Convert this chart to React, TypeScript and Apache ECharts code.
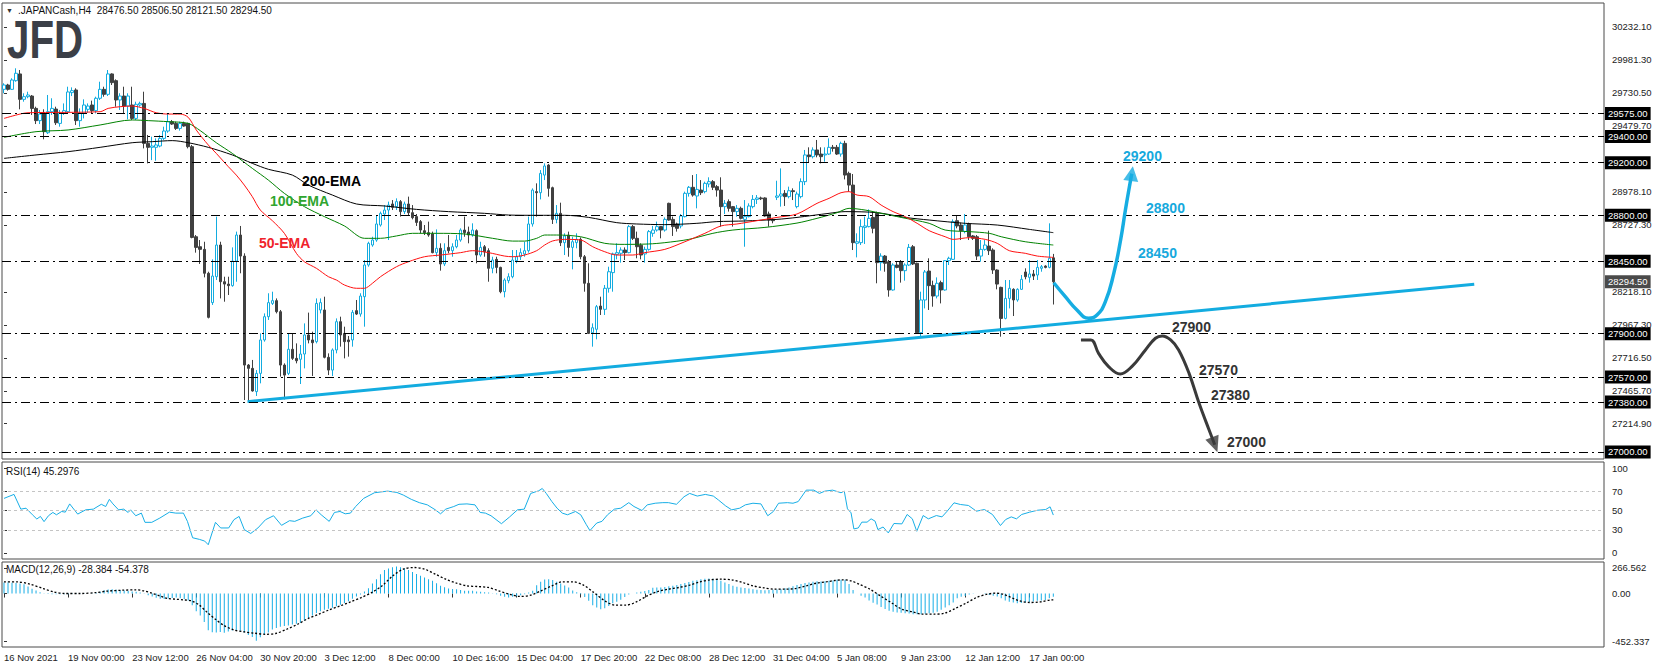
import React, { useEffect, useRef } from 'react';
import * as echarts from 'echarts';

// ---------- data ----------
const TICK_LABELS = ['16 Nov 2021', '19 Nov 00:00', '23 Nov 12:00', '26 Nov 04:00', '30 Nov 20:00', '3 Dec 12:00', '8 Dec 00:00', '10 Dec 16:00', '15 Dec 04:00', '17 Dec 20:00', '22 Dec 08:00', '28 Dec 12:00', '31 Dec 04:00', '5 Jan 08:00', '9 Jan 23:00', '12 Jan 12:00', '17 Jan 00:00'];
const BARS_PER_LABEL = 16;
const SLOTS = 400;

// [open, high, low, close]
const OHLC: number[][] = [
  [29758,29804,29728,29791],[29791,29800,29748,29758],[29758,29842,29753,29829],[29824,29918,29816,29880],[29875,29905,29606,29682],
  [29682,29728,29664,29702],[29702,29740,29690,29715],[29707,29715,29563,29613],[29613,29626,29494,29520],[29520,29601,29494,29570],
  [29575,29606,29378,29436],[29428,29715,29418,29588],[29588,29690,29563,29613],[29608,29626,29487,29504],[29499,29601,29474,29575],
  [29575,29651,29563,29596],[29588,29778,29575,29738],[29733,29773,29707,29748],[29753,29766,29487,29520],[29520,29613,29474,29575],
  [29575,29682,29537,29639],[29606,29651,29580,29631],[29639,29672,29575,29596],[29596,29702,29575,29690],[29690,29816,29677,29758],
  [29758,29778,29702,29720],[29720,29905,29707,29875],[29875,29880,29791,29809],[29824,29834,29626,29677],[29677,29728,29601,29707],
  [29707,29778,29570,29631],[29631,29728,29530,29707],[29639,29778,29525,29537],[29537,29664,29525,29644],[29639,29664,29626,29651],
  [29651,29740,29309,29347],[29347,29411,29195,29317],[29317,29398,29220,29327],[29317,29385,29215,29335],[29327,29411,29317,29385],
  [29385,29474,29373,29441],[29441,29575,29428,29512],[29512,29525,29487,29494],[29499,29512,29449,29461],[29461,29512,29444,29499],
  [29499,29512,29474,29479],[29499,29504,29309,29322],[29322,29335,28625,28632],[28637,28650,28516,28556],[28561,28612,28430,28541],
  [28541,28599,28328,28359],[28359,28371,28016,28024],[28136,28465,28118,28338],[28333,28790,28308,28574],[28574,28599,28168,28295],
  [28295,28333,28143,28277],[28277,28333,28194,28265],[28265,28556,28257,28452],[28452,28676,28295,28650],[28650,28719,28359,28490],
  [28490,28511,27395,27661],[27661,27669,27383,27636],[27636,27700,27459,27464],[27459,27623,27426,27598],[27598,27902,27522,27852],
  [27852,28054,27839,28029],[28029,28207,28004,28136],[28130,28219,28118,28151],[28151,28168,28054,28067],[28067,28080,27573,27661],
  [27661,27674,27400,27585],[27598,27902,27585,27781],[27781,27902,27700,27712],[27712,27826,27674,27694],[27705,27814,27517,27745],
  [27745,27978,27636,27890],[27890,28060,27826,27852],[27852,27915,27578,27831],[27839,28168,27826,28130],[28080,28168,28054,28136],
  [28080,28181,27712,27720],[27720,27750,27585,27623],[27623,27788,27578,27776],[27776,28016,27750,27991],[27991,28029,27801,27890],
  [27902,27953,27712,27839],[27852,27882,27725,27839],[27852,28080,27801,28062],[28075,28156,28042,28049],[28049,28207,28029,28186],
  [28181,28460,27953,28422],[28422,28599,28409,28587],[28574,28637,28561,28612],[28612,28802,28599,28734],[28726,28828,28714,28815],
  [28810,28878,28764,28840],[28840,28904,28612,28878],[28886,28916,28840,28861],[28866,28929,28840,28904],[28904,28916,28790,28828],
  [28828,28904,28810,28886],[28886,28942,28802,28820],[28820,28878,28769,28782],[28790,28810,28719,28746],[28752,28764,28663,28688],
  [28683,28726,28650,28668],[28668,28752,28637,28650],[28658,28676,28511,28516],[28516,28693,28485,28549],[28549,28587,28379,28430],
  [28430,28587,28414,28531],[28556,28650,28511,28531],[28531,28587,28485,28561],[28561,28650,28549,28612],[28612,28701,28599,28688],
  [28688,28790,28637,28668],[28673,28714,28587,28650],[28650,28739,28637,28688],[28683,28693,28435,28498],[28498,28599,28485,28556],
  [28561,28574,28485,28523],[28531,28549,28295,28397],[28397,28485,28359,28460],[28465,28485,28359,28404],[28404,28409,28207,28219],
  [28219,28321,28176,28308],[28303,28359,28283,28333],[28333,28536,28321,28460],[28455,28536,28435,28485],[28485,28549,28460,28516],
  [28506,28599,28485,28531],[28531,28790,28516,28734],[28734,29005,28714,28992],[28980,29043,28790,28972],[28972,29144,28921,29119],
  [29106,29195,29068,29175],[29182,29190,28942,29005],[29010,29018,28734,28769],[28769,28878,28739,28815],[28815,28896,28566,28592],
  [28592,28663,28498,28643],[28650,28676,28485,28556],[28556,28637,28389,28599],[28592,28663,28549,28617],[28617,28632,28465,28485],
  [28485,28498,28219,28283],[28283,28435,27897,27902],[27907,27978,27801,27945],[27933,28118,27857,28105],[28110,28181,28042,28085],
  [28085,28270,28042,28245],[28245,28409,28212,28371],[28364,28516,28219,28506],[28503,28587,28465,28516],[28511,28556,28440,28536],
  [28536,28556,28460,28516],[28516,28726,28511,28714],[28714,28726,28612,28625],[28625,28676,28473,28561],[28572,28587,28465,28498],
  [28506,28561,28440,28541],[28541,28688,28531,28676],[28663,28719,28637,28688],[28688,28752,28676,28714],[28714,28719,28625,28688],
  [28688,28784,28676,28769],[28891,28896,28759,28764],[28769,28790,28643,28714],[28734,28744,28676,28701],[28719,28810,28701,28795],
  [28790,28980,28784,28967],[28967,29023,28942,29013],[29013,29106,28942,28954],[28947,29114,28853,28997],[28992,29068,28954,28972],
  [28980,29056,28967,29043],[29038,29089,29013,29056],[29056,29068,28992,29013],[29018,29030,28942,28992],[28992,29089,28714,28866],
  [28866,28916,28810,28891],[28904,28921,28828,28853],[28866,28871,28714,28828],[28828,28878,28790,28853],[28853,28866,28769,28777],
  [28769,28916,28561,28790],[28790,28891,28784,28871],[28866,28954,28853,28921],[28921,28954,28886,28932],[28932,28942,28916,28926],
  [28932,28937,28790,28795],[28810,28828,28714,28764],[28769,28777,28739,28759],[28937,29063,28916,28947],[28947,29157,28866,28962],
  [28967,28992,28871,28942],[28942,29018,28929,28987],[28987,29005,28916,28980],[28866,28980,28853,28962],[28942,29081,28929,29056],
  [29056,29297,29030,29259],[29259,29317,29200,29246],[29246,29317,29233,29297],[29297,29373,29241,29259],[29266,29317,29195,29246],
  [29259,29317,29208,29266],[29266,29385,29259,29317],[29317,29335,29284,29309],[29317,29335,29259,29266],[29266,29360,29246,29347],
  [29347,29367,29073,29106],[29119,29132,28980,29030],[29030,29114,28536,28592],[28587,28663,28480,28599],[28592,28769,28574,28714],
  [28708,28790,28582,28719],[28714,28845,28708,28777],[28784,28828,28663,28701],[28815,28828,28283,28440],[28440,28511,28379,28490],
  [28490,28498,28371,28435],[28447,28460,28181,28232],[28232,28435,28227,28422],[28422,28447,28397,28404],[28447,28460,28288,28379],
  [28379,28435,28303,28422],[28422,28582,28414,28556],[28561,28574,28422,28430],[28435,28440,27902,27907],[27907,28219,27872,28156],
  [28156,28384,28092,28369],[28376,28473,28080,28265],[28267,28303,28105,28186],[28186,28328,28168,28283],[28288,28303,28130,28232],
  [28232,28460,28227,28455],[28455,28485,28422,28473],[28465,28769,28460,28752],[28759,28802,28701,28719],[28726,28744,28612,28683],
  [28676,28810,28663,28726],[28734,28744,28612,28637],[28643,28650,28612,28625],[28637,28650,28460,28490],[28490,28612,28447,28541],
  [28541,28612,28531,28574],[28566,28683,28498,28531],[28536,28549,28354,28384],[28384,28389,28237,28277],[28252,28257,27877,28016],
  [28016,28308,28009,28168],[28168,28308,28092,28245],[28237,28245,28034,28156],[28156,28245,28143,28237],[28237,28346,28232,28313],
  [28369,28397,28313,28333],[28328,28460,28288,28354],[28354,28384,28308,28338],[28346,28460,28308,28404],[28397,28422,28371,28409],
  [28414,28420,28397,28404],[28404,28739,28397,28473],[28476.5,28506.5,28121.5,28294.5]
];

// moving averages: [bar index, price]
const EMA50 = [[0,29537],[4,29570],[6,29580],[24,29588],[26,29613],[29,29626],[32,29631],[35,29613],[38,29580],[41,29570],[44,29570],[46,29545],[48,29449],[51,29335],[53,29271],[56,29170],[58,29106],[60,29030],[62,28942],[64,28840],[67,28759],[70,28663],[73,28511],[75,28447],[78,28397],[81,28333],[83,28308],[85,28270],[88,28245],[90,28245],[92,28283],[94,28333],[98,28409],[101,28447],[105,28485],[109,28498],[114,28516],[117,28531],[121,28516],[125,28490],[127,28485],[130,28498],[133,28531],[135,28574],[137,28605],[140,28617],[144,28612],[147,28561],[150,28523],[153,28498],[157,28498],[160,28516],[165,28541],[170,28599],[175,28663],[179,28719],[183,28734],[188,28759],[193,28784],[198,28810],[203,28891],[206,28929],[209,28972],[211,28980],[213,28954],[216,28942],[219,28878],[222,28828],[225,28790],[228,28739],[231,28683],[235,28637],[237,28617],[241,28630],[245,28617],[248,28587],[251,28531],[255,28511],[258,28490],[262,28480]];
const EMA100 = [[0,29393],[8,29436],[16,29449],[24,29487],[32,29525],[36,29520],[41,29512],[46,29499],[49,29444],[53,29352],[57,29271],[62,29157],[66,29068],[70,28967],[75,28866],[80,28790],[85,28719],[90,28625],[94,28625],[98,28643],[102,28663],[108,28663],[115,28658],[122,28625],[127,28604],[130,28604],[133,28625],[135,28650],[138,28650],[144,28637],[150,28587],[155,28579],[161,28582],[165,28592],[171,28617],[177,28663],[182,28688],[190,28708],[198,28741],[203,28777],[208,28820],[211,28853],[215,28840],[219,28815],[224,28784],[231,28739],[235,28688],[241,28676],[246,28663],[249,28637],[255,28599],[262,28574]];
const EMA200 = [[0,29233],[8,29259],[16,29284],[24,29317],[32,29352],[37,29360],[42,29368],[46,29352],[51,29317],[57,29259],[62,29195],[66,29150],[72,29106],[76,29030],[82,28954],[88,28886],[95,28871],[103,28845],[111,28828],[120,28815],[126,28802],[133,28800],[140,28800],[146,28784],[153,28744],[158,28734],[165,28729],[173,28739],[178,28752],[185,28757],[193,28769],[198,28784],[206,28815],[210,28828],[218,28820],[225,28784],[231,28764],[240,28739],[248,28726],[256,28693],[262,28668]];

// RSI(14): [bar index, value]
const RSI = [[0,62.5],[2.5,66.6],[4.2,51.4],[5.5,52.4],[7.1,45.6],[8.2,41.2],[9.1,43.9],[10,38.5],[11.1,44.6],[12.2,48],[13.1,45.6],[14.4,49],[15.3,48.3],[16.4,56.8],[18.4,46.3],[20.4,50.7],[22.3,51.4],[24.3,56.4],[25.4,54.1],[26.3,61.5],[27.2,56.8],[28.6,50.7],[29.9,51.4],[31,48],[31.6,50.7],[32.9,44.6],[34.3,47.3],[35.2,37.8],[36.9,37.8],[38.9,42.2],[41.3,48.3],[42.9,47.3],[44.8,47.3],[45.8,38.8],[47.1,21.9],[48.8,20.2],[50.1,18.5],[51,14.7],[52.8,37.8],[54.1,32],[56.1,32],[57.4,40.5],[58.7,43.9],[60,30.3],[61.6,26.3],[63.4,32],[65.3,40.5],[67.3,44.6],[69.3,34.7],[71.3,39.5],[72.6,38.8],[74.6,42.2],[76.6,44.6],[77.9,50.7],[79.2,45.6],[81.2,38.8],[82.5,48],[83.9,49],[85.2,46.6],[86.5,47.3],[87.8,54.1],[89.8,62.5],[92.5,68.3],[95.8,70],[98.1,68.6],[99.7,65.9],[101.7,61.5],[103.7,58.1],[105.7,55.8],[107.7,50.7],[109,46.6],[110.3,51.4],[112.3,54.1],[113.6,56.4],[115.6,56.8],[117.6,55.8],[118.9,48],[120.2,47.3],[121.6,44.6],[124.2,36.4],[126.2,43.2],[128.2,50.7],[129.9,51.4],[131.5,67.6],[133.5,70.3],[134.4,72.7],[135.4,67.6],[136.8,59.2],[138.1,52.4],[139.4,47.3],[140.7,45.6],[142.7,49],[144,45.6],[145.4,35.4],[146.3,29.3],[148,37.1],[149.3,38.8],[150.7,45.6],[152.4,51.4],[154,52.4],[156,58.1],[157.3,54.1],[159.3,50],[160.6,55.8],[162.6,57.5],[164.5,58.1],[165.9,58.1],[167.9,56.4],[169.8,64.2],[171.2,67.6],[173.1,64.9],[175.1,66.6],[177.1,64.9],[178.4,60.8],[180.2,54.7],[181.7,50.7],[183.7,52.4],[185.1,55.8],[187,57.5],[189,56.8],[190.7,44.6],[192.1,49],[193.4,57.5],[195.6,58.1],[197,57.5],[198.3,59.2],[200.3,71],[202.2,71],[203.6,67.6],[205,70],[206.9,71],[209,68.3],[209.8,70],[210.6,51.7],[211.5,47.6],[212.2,31],[213.3,32],[214.2,38],[215.5,38],[216.5,41.4],[217.5,39],[218.2,30.3],[219.5,33],[220.8,26.9],[222.2,36.6],[224.2,36.2],[225.5,45.9],[226.8,41.4],[227.9,28.6],[229.5,44.8],[230.8,41.4],[232.8,44.8],[234.2,43.4],[235.5,49.3],[237.2,57.9],[238.8,56.2],[240.8,55.2],[242.8,49.3],[244.8,51],[246.8,45.9],[248.8,34.5],[250.1,40.7],[251.5,43.4],[252.8,41.4],[254.1,45.9],[256.1,48.3],[258.1,50.3],[260.1,51],[261.2,53.8],[262,45.3]];
const RSI_LEVELS = [30, 50, 70];

// MACD(12,26,9) main histogram, one value per bar
const MACD_MAIN = [93,93,92,89,85,78,60,40,25,10,2,-4,-6,-6,-6,-6,-6,-5,-4,-3,-2,0,3,6,15,28,34,37,32,28,25,22,18,14,9,2,-14,-25,-35,-45,-46,-42,-38,-34,-40,-47,-58,-100,-150,-185,-240,-310,-328,-330,-325,-331,-322,-312,-308,-315,-330,-350,-368,-400,-370,-345,-330,-305,-292,-282,-275,-270,-262,-255,-248,-228,-208,-185,-165,-150,-137,-128,-120,-108,-94,-80,-66,-45,-25,-8,18,45,85,120,162,198,212,222,229,222,212,198,182,166,150,136,121,107,86,65,52,42,39,37,30,23,23,23,18,14,11,8,2,-6,-18,-27,-34,-28,-20,-14,-6,8,23,70,100,118,121,115,100,85,68,50,25,10,-6,-30,-62,-100,-118,-133,-125,-105,-82,-70,-52,-30,-8,0,8,15,22,30,48,51,51,55,62,66,71,80,88,98,107,113,121,124,127,125,121,108,93,80,66,58,51,46,42,36,31,29,28,29,31,34,37,44,51,62,71,80,88,93,99,103,101,104,107,110,116,116,116,80,30,0,-18,-34,-60,-78,-92,-115,-130,-145,-155,-160,-163,-167,-170,-175,-176,-175,-172,-167,-162,-155,-138,-119,-100,-76,-40,-28,-20,-8,2,1,0,-4,-12,-18,-25,-40,-60,-70,-77,-82,-80,-76,-72,-68,-62,-58,-54,-40,-28];
// MACD signal line: [bar index, value]
const MACD_SIGNAL = [[0,99],[3.2,99],[6.5,79],[9.8,42],[12.4,14],[15.1,0],[19,0],[23,8],[25.7,20],[29.6,28],[32.9,31],[34.9,23],[36.9,3],[38.9,-20],[40.9,-42],[42.9,-48],[44.8,-54],[46.8,-62],[48.8,-99],[50.8,-161],[52.8,-218],[54.8,-268],[57.4,-308],[60.1,-325],[62.7,-336],[65.3,-345],[68,-336],[70.6,-302],[73.3,-260],[75.9,-212],[78.6,-175],[81.2,-138],[83.9,-105],[86.5,-71],[89.2,-34],[91.8,8],[94.4,65],[97.1,150],[99.7,206],[102.4,220],[105,206],[107.7,164],[110.3,121],[113,88],[115.6,65],[118.3,59],[120.9,51],[123.5,23],[126.2,-6],[128.8,-25],[131.5,-14],[134.1,23],[136.8,65],[139.4,99],[142.1,99],[144.7,71],[147.3,8],[150,-62],[152.6,-99],[155.3,-99],[157.9,-71],[160.6,-20],[163.2,17],[165.9,37],[168.5,51],[171.2,71],[173.8,99],[176.4,116],[179.1,121],[181.7,116],[184.4,93],[187,65],[189.7,48],[192.3,37],[195,37],[197.6,42],[200.3,65],[202.9,88],[205.5,100],[207.5,110],[209.5,116],[211.5,107],[213.5,79],[216.2,37],[218.8,-20],[221.5,-76],[224.2,-133],[226.8,-155],[229.5,-175],[232.2,-175],[234.8,-167],[237.5,-127],[240.2,-82],[242.8,-34],[245.5,-6],[247.5,3],[249.5,-6],[251.5,-34],[253.5,-62],[256.1,-76],[258.8,-71],[261.5,-54],[262,-54.4]];

const LEVELS = [29575, 29400, 29200, 28800, 28450, 27900, 27570, 27380, 27000];
const LAST_PRICE = 28294.5;
const PRICE_TICKS = [30232.1, 29981.3, 29730.5, 29479.7, 28978.1, 28727.3, 28218.1, 27967.3, 27716.5, 27465.7, 27214.9];
const PRICE_MIN = 26946.7;
const PRICE_MAX = 30414.6;
const MACD_MIN = -452.337;
const MACD_MAX = 266.562;

// drawn annotations, in [bar index, price]
const TRENDLINE = [[60.8, 27383], [367.1, 28275]];
const BULL_PATH = [[262.1,28287],[265,28181],[267.9,28080],[270.8,28017],[272.9,28042],[275,28143],[277.1,28359],[278.8,28612],[280,28840],[281,29017],[281.6,29117]];
const BEAR_PATH = [[268.9,27852],[271.4,27852],[273.3,27750],[275.8,27649],[278.7,27593],[281.6,27649],[285,27776],[287.5,27865],[289.2,27882],[291.3,27852],[293.3,27776],[295.9,27598],[298.4,27370],[300.9,27167],[302.3,27055]];

// ---------- styling ----------
const FONT = '"Liberation Sans", Arial, sans-serif';
const CYAN = '#13ace0';
const DARK = '#404040';
const AXIS_TEXT = '#222';

function buildOption(): any {
  const cats = Array.from({ length: SLOTS }, (_, i) => String(i));
  const showLabel = (idx: number) => idx % BARS_PER_LABEL === 0 && idx / BARS_PER_LABEL < TICK_LABELS.length;

  const gridBase = { show: true, borderColor: '#4a4a4a', borderWidth: 1, backgroundColor: 'transparent', containLabel: false, outerBoundsMode: 'none' };
  const grid = [
    { ...gridBase, left: 2, top: 3, width: 1602, height: 456 },
    { ...gridBase, left: 2, top: 462, width: 1602, height: 97 },
    { ...gridBase, left: 2, top: 562, width: 1602, height: 85 },
  ];

  const hiddenCat = (g: number) => ({
    type: 'category', gridIndex: g, data: cats, boundaryGap: true,
    axisLine: { show: false }, axisTick: { show: false }, axisLabel: { show: false }, splitLine: { show: false },
  });
  const hiddenVal = (g: number) => ({ type: 'value', gridIndex: g, min: -0.5, max: SLOTS - 0.5, show: false, splitLine: { show: false } });

  const xAxis = [
    hiddenCat(0),
    hiddenCat(1),
    {
      type: 'category', gridIndex: 2, data: cats, boundaryGap: true,
      axisLine: { show: false },
      splitLine: { show: false },
      axisTick: { show: true, interval: (i: number) => showLabel(i), alignWithLabel: true, length: 4, lineStyle: { color: '#333' } },
      axisLabel: {
        show: true, interval: (i: number) => showLabel(i), align: 'left', margin: 5,
        formatter: (v: string) => TICK_LABELS[Number(v) / BARS_PER_LABEL] ?? '',
        color: AXIS_TEXT, fontSize: 9.5, fontFamily: FONT,
      },
    },
    hiddenVal(0),
    hiddenVal(1),
    hiddenVal(2),
  ];

  const rsiLabelMap: Record<string, string> = { '93.6': '100', '70': '70', '50': '50', '30': '30', '6.4': '0' };
  const macdLabelMap: Record<string, string> = { '216': '266.562', '0': '0.00', '-402': '-452.337' };
  const rsiTicks = [93.6, 70, 50, 30, 6.4];
  const macdTicks = [216, 0, -402];

  const yAxis = [
    {
      type: 'value', gridIndex: 0, position: 'right', min: PRICE_MIN, max: PRICE_MAX,
      splitLine: { show: false }, axisLine: { show: false },
      axisTick: { show: true, length: 3, customValues: PRICE_TICKS, lineStyle: { color: '#333' } },
      axisLabel: { customValues: PRICE_TICKS, formatter: (v: number) => v.toFixed(2), margin: 8, color: AXIS_TEXT, fontSize: 9.5, fontFamily: FONT },
    },
    {
      type: 'value', gridIndex: 1, position: 'right', min: 0, max: 100,
      splitLine: { show: false }, axisLine: { show: false },
      axisTick: { show: true, length: 3, customValues: rsiTicks, lineStyle: { color: '#333' } },
      axisLabel: { customValues: rsiTicks, formatter: (v: number) => rsiLabelMap[String(v)] ?? String(v), margin: 8, color: AXIS_TEXT, fontSize: 9.5, fontFamily: FONT },
    },
    {
      type: 'value', gridIndex: 2, position: 'right', min: MACD_MIN, max: MACD_MAX,
      splitLine: { show: false }, axisLine: { show: false },
      axisTick: { show: true, length: 3, customValues: macdTicks, lineStyle: { color: '#333' } },
      axisLabel: { customValues: macdTicks, formatter: (v: number) => macdLabelMap[String(v)] ?? String(v), margin: 8, color: AXIS_TEXT, fontSize: 9.5, fontFamily: FONT },
    },
  ];

  const candleData = OHLC.map(([o, h, l, c]) => [o, c, l, h]);

  const emaLine = (name: string, data: number[][], color: string) => ({
    name, type: 'line', xAxisIndex: 3, yAxisIndex: 0, data, smooth: 0.3, symbol: 'none', silent: true, z: 3,
    lineStyle: { color, width: 1 },
  });

  const series: any[] = [
    {
      name: 'JAPANCash', type: 'candlestick', xAxisIndex: 0, yAxisIndex: 0, data: candleData, barWidth: 3, z: 2,
      itemStyle: { color: '#ffffff', color0: DARK, borderColor: CYAN, borderColor0: DARK, borderWidth: 1 },
      markLine: {
        silent: true, symbol: ['none', 'none'], animation: false, precision: 2,
        lineStyle: { color: '#000', width: 1, type: [9, 4, 2, 4] },
        label: {
          show: true, position: 'end', distance: 1,
          formatter: (p: any) => Number(p.value).toFixed(2),
          color: '#fff', backgroundColor: '#000', padding: [2, 3, 1, 3], fontSize: 9.5, fontFamily: FONT,
        },
        data: [
          ...LEVELS.map((v) => ({ yAxis: v })),
          { yAxis: LAST_PRICE, lineStyle: { color: 'rgba(0,0,0,0)', width: 1 }, label: { show: true, backgroundColor: '#4a4a4a', color: '#fff' } },
        ],
      },
    },
    emaLine('200-EMA', EMA200, '#000000'),
    emaLine('100-EMA', EMA100, '#008200'),
    emaLine('50-EMA', EMA50, '#ff1010'),
    {
      name: 'trend', type: 'line', xAxisIndex: 3, yAxisIndex: 0, data: TRENDLINE, symbol: 'none', silent: true, z: 4,
      lineStyle: { color: CYAN, width: 3 },
    },
    {
      name: 'bull', type: 'line', xAxisIndex: 3, yAxisIndex: 0, data: BULL_PATH, smooth: 0.5, symbol: 'none', silent: true, z: 5,
      lineStyle: { color: '#16ade2', width: 3.5 },
    },
    {
      name: 'bear', type: 'line', xAxisIndex: 3, yAxisIndex: 0, data: BEAR_PATH, smooth: 0.4, symbol: 'none', silent: true, z: 5,
      lineStyle: { color: '#3a3a3a', width: 3 },
    },
    {
      name: 'heads', type: 'scatter', xAxisIndex: 3, yAxisIndex: 0, silent: true, z: 6, symbol: 'triangle',
      data: [
        { value: BULL_PATH[BULL_PATH.length - 1], symbolSize: [15, 15], symbolRotate: -8, itemStyle: { color: '#16ade2' } },
        { value: BEAR_PATH[BEAR_PATH.length - 1], symbolSize: [14, 16], symbolRotate: 200, itemStyle: { color: '#3a3a3a' } },
      ],
    },
    {
      name: 'RSI', type: 'line', xAxisIndex: 4, yAxisIndex: 1, data: RSI, symbol: 'none', silent: true, z: 3,
      lineStyle: { color: '#17aee6', width: 1 },
      markLine: {
        silent: true, symbol: ['none', 'none'], animation: false, label: { show: false },
        lineStyle: { color: '#c4c4c4', width: 1, type: [3, 3] },
        data: RSI_LEVELS.map((v) => ({ yAxis: v })),
      },
    },
    {
      name: 'MACD', type: 'bar', xAxisIndex: 2, yAxisIndex: 2, data: MACD_MAIN, barWidth: 1, silent: true, z: 2,
      itemStyle: { color: '#17aee6' },
    },
    {
      name: 'Signal', type: 'line', xAxisIndex: 5, yAxisIndex: 2, data: MACD_SIGNAL, smooth: 0.3, symbol: 'none', silent: true, z: 3,
      lineStyle: { color: '#000', width: 1.3, type: [2, 2] },
    },
  ];

  const txt = (text: string, x: number, y: number, fill: string, font: string, extra: any = {}) => ({
    type: 'text', x, y, silent: true, z: 100, ...extra,
    style: { text, fill, font, textAlign: 'left', textVerticalAlign: 'middle' },
  });
  const small = `10px ${FONT}`;
  const bold = `bold 14px ${FONT}`;

  const graphic = [
    txt('\u25BC', 6, 10, '#333', `7px ${FONT}`),
    txt('.JAPANCash,H4\u00a0\u00a028476.50 28506.50 28121.50 28294.50', 18, 10, '#111', small),
    txt('JFD', 7, 39, '#3b3f47', `bold 53px ${FONT}`, { scaleX: 0.76 }),
    txt('200-EMA', 302, 181, '#000', bold),
    txt('100-EMA', 270, 201, '#2fa52f', bold),
    txt('50-EMA', 259, 243, '#f0232b', bold),
    txt('29200', 1123, 156, '#17a9dd', bold),
    txt('28800', 1146, 208, '#17a9dd', bold),
    txt('28450', 1138, 253, '#17a9dd', bold),
    txt('27900', 1172, 327, '#333', bold),
    txt('27570', 1199, 370, '#333', bold),
    txt('27380', 1211, 395, '#333', bold),
    txt('27000', 1227, 442, '#333', bold),
    txt('RSI(14) 45.2976', 6, 471, '#111', small),
    txt('MACD(12,26,9) -28.384 -54.378', 6, 569, '#111', small),
  ];

  return {
    animation: false,
    backgroundColor: '#ffffff',
    textStyle: { fontFamily: FONT },
    grid, xAxis, yAxis, series, graphic,
    tooltip: { show: false },
  };
}

export default function App() {
  const ref = useRef<HTMLDivElement>(null);
  useEffect(() => {
    document.body.style.margin = '0';
    const chart = echarts.init(ref.current as HTMLDivElement, null, { renderer: 'svg' });
    chart.setOption(buildOption());
    return () => chart.dispose();
  }, []);
  return <div ref={ref} style={{ width: 1655, height: 668 }} />;
}
